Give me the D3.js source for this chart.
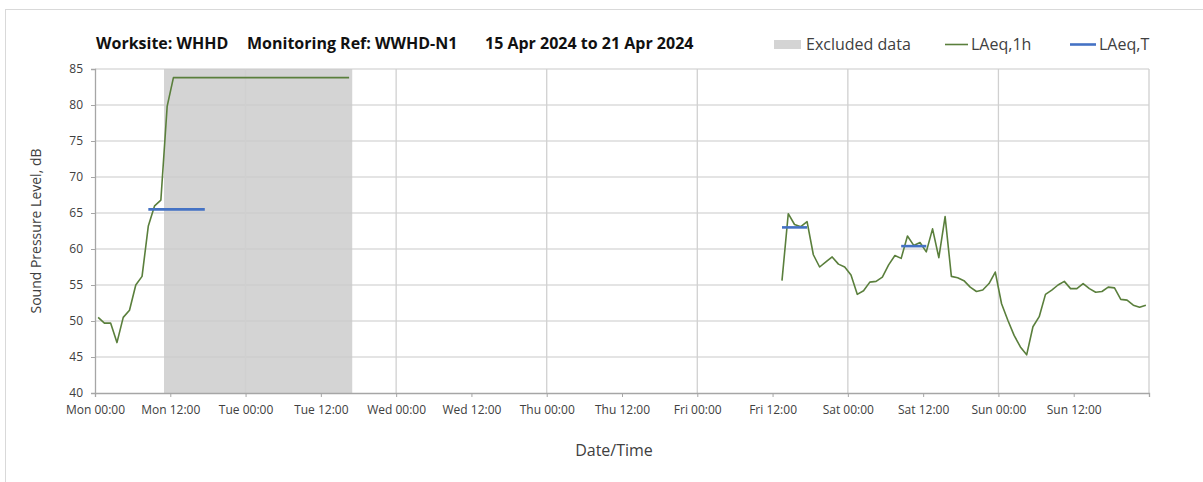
<!DOCTYPE html>
<html>
<head>
<meta charset="utf-8">
<script src="https://cdn.jsdelivr.net/npm/d3@7"></script>
<style>
  body { margin: 0; background: #fff; }
  text { font-family: "Open Sans", "Noto Sans", sans-serif; }
</style>
</head>
<body>
<svg id="chart" width="1203" height="482"></svg>
<script>
// ---- data ----
const titleParts = ["Worksite: WHHD", "Monitoring Ref: WWHD-N1", "15 Apr 2024 to 21 Apr 2024"];
const legendLabels = ["Excluded data", "LAeq,1h", "LAeq,T"];
const axisTitles = ["Date/Time", "Sound Pressure Level, dB"];

const periodStart = "2024-04-15T00:00";
const periodEnd = "2024-04-22T00:00";
const yTicks = [40, 45, 50, 55, 60, 65, 70, 75, 80, 85];

// Hourly LAeq,1h, each value plotted at the half hour
const mondayStart = "2024-04-15T00:30";
const mondayLAeq1h = [
  50.5, 49.7, 49.7, 47.0, 50.5, 51.5, 55.0, 56.2, 63.2, 66.0, 66.8, 79.8,
  83.8, 83.8, 83.8, 83.8, 83.8, 83.8, 83.8, 83.8, 83.8, 83.8, 83.8, 83.8,
  83.8, 83.8, 83.8, 83.8, 83.8, 83.8, 83.8, 83.8, 83.8, 83.8, 83.8, 83.8,
  83.8, 83.8, 83.8, 83.8, 83.8
];
const fridayStart = "2024-04-19T13:30";
const fridayLAeq1h = [
  55.6, 64.9, 63.4, 63.1, 63.8, 59.2, 57.5, 58.2, 58.9, 57.9, 57.5,
  56.4, 53.7, 54.2, 55.4, 55.5, 56.1, 57.8, 59.1, 58.7, 61.8, 60.5,
  60.9, 59.6, 62.8, 58.8, 64.5, 56.2, 56.0, 55.6, 54.7, 54.1, 54.3,
  55.2, 56.8, 52.4, 50.1, 48.0, 46.4, 45.3, 49.2, 50.6, 53.7, 54.3,
  55.0, 55.5, 54.5, 54.5, 55.2, 54.5, 54.0, 54.1, 54.7, 54.6, 53.0,
  52.9, 52.2, 51.9, 52.2
];

const excludedPeriod = ["2024-04-15T11:00", "2024-04-16T17:00"];

const laeqTStarts = ["2024-04-15T08:30", "2024-04-19T13:30", "2024-04-20T08:30"];
const laeqTEnds   = ["2024-04-15T17:30", "2024-04-19T17:30", "2024-04-20T12:30"];
const laeqTValues = [65.5, 63.0, 60.4];

// ---- setup ----
const parse = d3.utcParse("%Y-%m-%dT%H:%M");
const svg = d3.select("#chart");

const x = d3.scaleUtc().domain([parse(periodStart), parse(periodEnd)]).range([95, 1149]);
const y = d3.scaleLinear().domain([40, 85]).range([393, 69]);

const hourly = (start, values) =>
  values.map((v, i) => ({ t: d3.utcHour.offset(parse(start), i), v }));

const mondaySeries = hourly(mondayStart, mondayLAeq1h);
const fridaySeries = hourly(fridayStart, fridayLAeq1h);

const textColor = "#404040";

// outer chart border
svg.append("rect")
  .attr("x", 5.5).attr("y", 9.5).attr("width", 1400).attr("height", 600)
  .attr("fill", "none").attr("stroke", "#d9d9d9");

// excluded-data band
svg.append("rect")
  .attr("x", x(parse(excludedPeriod[0])))
  .attr("y", y(85))
  .attr("width", x(parse(excludedPeriod[1])) - x(parse(excludedPeriod[0])))
  .attr("height", y(40) - y(85))
  .attr("fill", "#d4d4d4");

// horizontal gridlines
svg.append("g").selectAll("line").data(yTicks.filter(d => d > 40)).join("line")
  .attr("x1", 95).attr("x2", 1149)
  .attr("y1", d => y(d)).attr("y2", d => y(d))
  .attr("stroke", "#c9c9c9").attr("stroke-width", 1.2);

// vertical gridlines at each midnight
const days = d3.utcDay.range(d3.utcDay.offset(parse(periodStart), 1), d3.utcDay.offset(parse(periodEnd), 1));
svg.append("g").selectAll("line").data(days).join("line")
  .attr("x1", d => x(d)).attr("x2", d => x(d))
  .attr("y1", y(85)).attr("y2", y(40))
  .attr("stroke", "#d0d0d0").attr("stroke-width", 1.3);

// x axis
const xTicks = d3.utcHour.every(12).range(parse(periodStart), d3.utcHour.offset(parse(periodEnd), 1));
const fmt = d3.utcFormat("%a %H:%M");
const xAxis = d3.axisBottom(x).tickValues(xTicks).tickSize(4).tickPadding(8)
  .tickFormat((d, i) => i < xTicks.length - 1 ? fmt(d) : "");
const gx = svg.append("g").attr("transform", `translate(0,${y(40)})`).call(xAxis);
gx.select(".domain").attr("stroke", "#a6a6a6").attr("stroke-width", 1.3);
gx.selectAll(".tick line").attr("stroke", "#a6a6a6");
gx.selectAll(".tick text").attr("fill", textColor).style("font-size", "12px");

// y axis
const yAxis = d3.axisLeft(y).tickValues(yTicks).tickSize(4).tickPadding(8);
const gy = svg.append("g").attr("transform", `translate(95,0)`).call(yAxis);
gy.select(".domain").attr("stroke", "#a6a6a6").attr("stroke-width", 1.3);
gy.selectAll(".tick line").attr("stroke", "#a6a6a6");
gy.selectAll(".tick text").attr("fill", textColor).style("font-size", "12px");

// LAeq,1h line
const line = d3.line().x(d => x(d.t)).y(d => y(d.v));
[mondaySeries, fridaySeries].forEach(s => {
  svg.append("path").datum(s)
    .attr("d", line)
    .attr("fill", "none")
    .attr("stroke", "#5a7f3c")
    .attr("stroke-width", 1.6)
    .attr("stroke-linejoin", "round");
});

// LAeq,T period levels
svg.append("g").selectAll("line").data(laeqTValues).join("line")
  .attr("x1", (d, i) => x(parse(laeqTStarts[i])))
  .attr("x2", (d, i) => x(parse(laeqTEnds[i])))
  .attr("y1", d => y(d)).attr("y2", d => y(d))
  .attr("stroke", "#4472c4").attr("stroke-width", 2.6);

// title
const titleX = [96, 247, 485];
svg.append("g").selectAll("text").data(titleParts).join("text")
  .attr("x", (d, i) => titleX[i]).attr("y", 49)
  .attr("fill", "#111").style("font-size", "16px").style("font-weight", "bold")
  .text(d => d);

// legend
const lg = svg.append("g");
lg.append("rect").attr("x", 774).attr("y", 40).attr("width", 27).attr("height", 9).attr("fill", "#d4d4d4");
lg.append("line").attr("x1", 945).attr("x2", 968).attr("y1", 44.5).attr("y2", 44.5)
  .attr("stroke", "#5a7f3c").attr("stroke-width", 1.6);
lg.append("line").attr("x1", 1070).attr("x2", 1096).attr("y1", 44.5).attr("y2", 44.5)
  .attr("stroke", "#4472c4").attr("stroke-width", 2.6);
const legendX = [806, 971, 1099];
lg.selectAll("text").data(legendLabels).join("text")
  .attr("x", (d, i) => legendX[i]).attr("y", 50)
  .attr("fill", textColor).style("font-size", "16px")
  .text(d => d);

// axis titles
svg.append("text")
  .attr("x", 614).attr("y", 456).attr("text-anchor", "middle")
  .attr("fill", textColor).style("font-size", "16px")
  .text(axisTitles[0]);
svg.append("text")
  .attr("transform", "translate(41,231) rotate(-90)")
  .attr("text-anchor", "middle")
  .attr("fill", textColor).style("font-size", "14px")
  .text(axisTitles[1]);
</script>
</body>
</html>
